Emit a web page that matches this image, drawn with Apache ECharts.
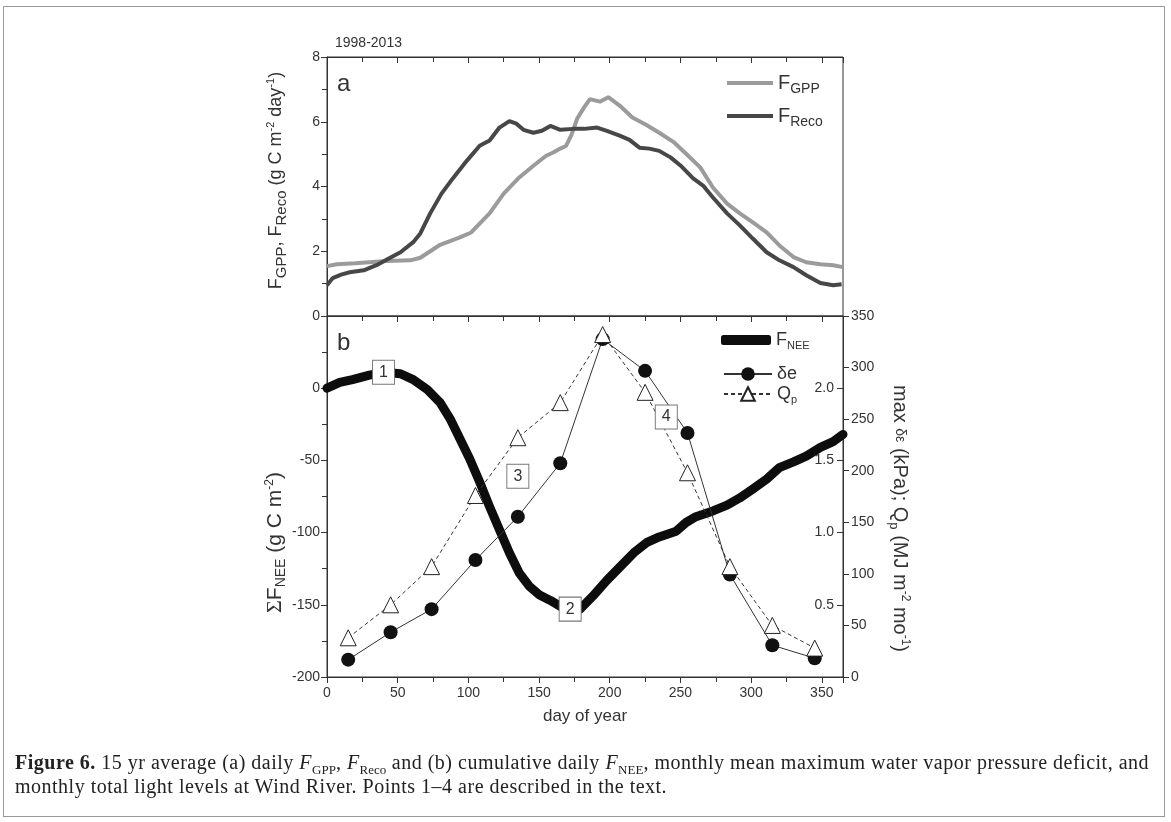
<!DOCTYPE html>
<html>
<head>
<meta charset="utf-8">
<script src="https://cdn.jsdelivr.net/npm/echarts@6/dist/echarts.min.js"></script>
<style>
  html, body { margin: 0; padding: 0; background: #fff; }
  #frame {
    position: absolute; left: 3px; top: 6px; width: 1162px; height: 811px;
    border: 1px solid #9a9a9a; box-sizing: border-box;
  }
  #main { position: absolute; left: 0; top: 0; width: 1171px; height: 822px; }
  #cap {
    position: absolute; left: 15px; top: 750px; white-space: nowrap;
    font-family: "Liberation Serif", "DejaVu Serif", serif; font-size: 20px;
    letter-spacing: 0.5px; line-height: 24px; color: #222;
  }
  #cap sub { font-size: 13px; line-height: 0; letter-spacing: 0; }
</style>
</head>
<body>
<div id="frame"></div>
<div id="main"></div>
<div id="cap"><b>Figure 6.</b> 15 yr average (a) daily <i>F</i><sub>GPP</sub>, <i>F</i><sub>Reco</sub> and (b) cumulative daily <i>F</i><sub>NEE</sub>, monthly mean maximum water vapor pressure deficit, and<br>monthly total light levels at Wind River. Points 1–4 are described in the text.</div>
<script>
// panel a: daily fluxes (g C m-2 day-1)
const gppDays = [0, 7, 20, 42, 59, 66, 80, 94, 102, 115, 125, 136, 146, 155, 160, 165, 169, 173, 177, 182, 186, 193, 199, 207, 216, 226, 235, 245, 254, 264, 273, 283, 292, 301, 311, 320, 330, 339, 349, 358, 365];
const gppVals = [1.54, 1.6, 1.63, 1.7, 1.72, 1.8, 2.2, 2.43, 2.58, 3.17, 3.78, 4.28, 4.64, 4.95, 5.05, 5.17, 5.25, 5.6, 6.1, 6.45, 6.7, 6.62, 6.76, 6.5, 6.13, 5.9, 5.66, 5.38, 5.01, 4.59, 3.97, 3.47, 3.17, 2.9, 2.58, 2.18, 1.82, 1.66, 1.6, 1.57, 1.51];
const recoDays = [0, 4, 10, 16, 26, 35, 45, 52, 61, 66, 73, 81, 89, 99, 108, 115, 122, 129, 134, 139, 146, 152, 158, 165, 174, 182, 191, 198, 207, 214, 221, 228, 235, 243, 250, 259, 266, 273, 283, 292, 301, 311, 320, 330, 339, 349, 358, 364];
const recoVals = [0.95, 1.17, 1.28, 1.35, 1.41, 1.57, 1.81, 1.97, 2.28, 2.55, 3.17, 3.78, 4.25, 4.8, 5.26, 5.42, 5.82, 6.02, 5.94, 5.75, 5.66, 5.72, 5.87, 5.75, 5.78, 5.78, 5.82, 5.72, 5.57, 5.44, 5.2, 5.17, 5.1, 4.9, 4.65, 4.25, 4.03, 3.66, 3.17, 2.8, 2.4, 1.97, 1.72, 1.51, 1.26, 1.02, 0.95, 0.98];

// panel b: cumulative NEE (g C m-2)
const neeDays = [0, 9, 18, 30, 40, 52, 61, 71, 80, 87, 94, 101, 108, 115, 122, 129, 136, 143, 150, 158, 165, 172, 179, 188, 198, 207, 217, 226, 235, 247, 254, 261, 273, 283, 292, 301, 311, 320, 330, 339, 349, 358, 365];
const neeVals = [0, 4, 6, 9, 11, 10, 6, -1, -10, -21, -35, -49, -65, -82, -98, -114, -128, -137, -143, -147, -151, -155, -153, -144, -133, -124, -114, -107, -103, -99, -93, -89, -85, -81, -76, -70, -63, -55, -51, -47, -41, -37, -32];

// monthly values
const monthDays = [15, 45, 74, 105, 135, 165, 195, 225, 255, 285, 315, 345];
const vpdVals = [0.12, 0.31, 0.47, 0.81, 1.11, 1.48, 2.34, 2.12, 1.69, 0.71, 0.22, 0.13];
const qpVals = [38, 70, 107, 176, 232, 266, 332, 276, 198, 107, 50, 28];

// numbered points on the NEE curve
const pointNames = ['1', '2', '3', '4'];
const pointDays = [40, 172, 135, 240];
const pointVals = [11, -153, -61, -20];

const pairs = (xs, ys) => xs.map((x, i) => [x, ys[i]]);

const FONT = 'Liberation Sans';
const INK = '#333';

const chart = echarts.init(document.getElementById('main'));

function xAxisFor(grid, pos, extra) {
  return Object.assign({
    gridIndex: grid, position: pos, type: 'value',
    min: 0, max: 365, interval: 50, splitLine: { show: false },
    axisLine: { show: true, onZero: false, lineStyle: { color: INK } },
    axisLabel: { show: false },
    axisTick: { show: true, inside: true, length: 6, lineStyle: { color: INK } },
    minorTick: { show: true, splitNumber: 2, length: 5, lineStyle: { color: INK } }
  }, extra || {});
}

const subRich = (big, small) => ({
  f: { fontSize: big, fontFamily: FONT, color: INK },
  s: { fontSize: small, fontFamily: FONT, color: INK, padding: [12, 0, 0, 0] }
});

const option = {
  animation: false,
  textStyle: { fontFamily: FONT },
  title: { text: '1998-2013', left: 330, top: 31,
    textStyle: { fontSize: 14, fontWeight: 'normal', color: INK, fontFamily: FONT } },
  grid: [
    { left: 327, top: 57, width: 516, height: 259, show: true, borderColor: INK, borderWidth: 1 },
    { left: 327, top: 316, width: 516, height: 361, show: true, borderColor: INK, borderWidth: 1 }
  ],
  legend: [
    {
      data: [{ name: 'GPP', icon: 'rect' }, { name: 'Reco', icon: 'rect' }],
      orient: 'vertical', left: 722, top: 68, itemGap: 10,
      itemWidth: 46, itemHeight: 4,
      formatter: n => '{f|F}{s|' + n + '}',
      textStyle: { color: INK, rich: subRich(20, 14) }
    },
    {
      data: [{ name: 'NEE', icon: 'roundRect' }],
      left: 716, top: 326, itemWidth: 50, itemHeight: 10,
      formatter: () => '{f|F}{s|NEE}',
      textStyle: { color: INK, rich: subRich(18, 11) }
    },
    {
      data: ['δe', 'Qp'], orient: 'vertical', left: 718, top: 360, itemGap: 2,
      itemWidth: 48, itemHeight: 17,
      formatter: n => n === 'Qp' ? '{f|Q}{s|p}' : '{f|δe}',
      textStyle: { color: INK, rich: subRich(18, 11) }
    }
  ],
  xAxis: [
    xAxisFor(0, 'bottom', { axisTick: { show: false }, minorTick: { show: false } }),
    xAxisFor(0, 'top'),
    xAxisFor(1, 'top'),
    xAxisFor(1, 'bottom', {
      name: 'day of year', nameLocation: 'middle', nameGap: 31,
      nameTextStyle: { fontSize: 17, color: INK, fontFamily: FONT },
      axisLabel: { show: true, fontSize: 14, color: INK, margin: 9 },
      axisTick: { show: true, inside: false, length: 6, lineStyle: { color: INK } }
    })
  ],
  yAxis: [
    {
      gridIndex: 0, type: 'value', min: 0, max: 8, interval: 2, position: 'left',
      splitLine: { show: false },
      axisLine: { show: true, onZero: false, lineStyle: { color: INK } },
      axisTick: { length: 6, lineStyle: { color: INK } },
      minorTick: { show: true, splitNumber: 2, length: 5, lineStyle: { color: INK } },
      axisLabel: { fontSize: 14, color: INK, margin: 7 },
      name: '{b|F}{s|GPP}{b|, F}{s|Reco}{b| (g C m}{p|-2}{b| day}{p|-1}{b|)}',
      nameLocation: 'middle', nameGap: 38,
      nameTextStyle: { color: INK, padding: [0, 0, 0, 12], rich: {
        b: { fontSize: 18, fontFamily: FONT, color: INK },
        s: { fontSize: 15, fontFamily: FONT, color: INK, padding: [11, 0, 0, 0] },
        p: { fontSize: 11, fontFamily: FONT, color: INK, padding: [0, 0, 10, 0] } } }
    },
    {
      gridIndex: 1, type: 'value', min: -200, max: 50, interval: 50, position: 'left',
      splitLine: { show: false },
      axisLine: { show: true, onZero: false, lineStyle: { color: INK } },
      axisTick: { length: 6, lineStyle: { color: INK } },
      minorTick: { show: true, splitNumber: 2, length: 5, lineStyle: { color: INK } },
      axisLabel: { fontSize: 14, color: INK, margin: 7, formatter: v => v === 50 ? '' : String(v) },
      name: '{g|Σ}{b|F}{s|NEE}{b| (g C m}{p|-2}{b|)}',
      nameLocation: 'middle', nameGap: 38,
      nameTextStyle: { color: INK, padding: [0, 92, 0, 0], rich: {
        g: { fontSize: 22, fontFamily: 'Liberation Serif', color: INK },
        b: { fontSize: 21, fontFamily: FONT, color: INK },
        s: { fontSize: 14, fontFamily: FONT, color: INK, padding: [12, 0, 0, 0] },
        p: { fontSize: 12, fontFamily: FONT, color: INK, padding: [0, 0, 11, 0] } } }
    },
    {
      gridIndex: 1, type: 'value', min: 0, max: 350, interval: 50, position: 'right',
      splitLine: { show: false },
      axisLine: { show: true, onZero: false, lineStyle: { color: INK } },
      axisTick: { length: 6, lineStyle: { color: INK } },
      axisLabel: { fontSize: 14, color: INK, margin: 8 },
      name: '{b|max }{d|δε}{b| (kPa); Q}{s|p}{b| (MJ m}{p|-2}{b| mo}{p|-1}{b|)}',
      nameLocation: 'middle', nameGap: 44, nameRotate: -90,
      nameTextStyle: { color: INK, padding: [0, 0, 0, 44], rich: {
        b: { fontSize: 20, fontFamily: FONT, color: INK },
        d: { fontSize: 14, fontFamily: FONT, color: INK },
        s: { fontSize: 13, fontFamily: FONT, color: INK, padding: [12, 0, 0, 0] },
        p: { fontSize: 12, fontFamily: FONT, color: INK, padding: [0, 0, 11, 0] } } }
    },
    {
      gridIndex: 1, type: 'value', min: 0, max: 2.5, interval: 0.5, position: 'right',
      splitLine: { show: false },
      axisLine: { show: false, onZero: false },
      axisTick: { inside: true, length: 6, lineStyle: { color: INK } },
      axisLabel: { inside: true, fontSize: 14, color: INK, margin: 9,
        formatter: v => (v === 0 || v === 2.5) ? '' : v.toFixed(1) }
    }
  ],
  graphic: [
    { type: 'text', left: 337, top: 72, style: { text: 'a', fontSize: 24, fontFamily: FONT, fill: INK } },
    { type: 'text', left: 337, top: 331, style: { text: 'b', fontSize: 24, fontFamily: FONT, fill: INK } }
  ],
  series: [
    { name: 'GPP', type: 'line', xAxisIndex: 0, yAxisIndex: 0, data: pairs(gppDays, gppVals),
      symbol: 'none', lineStyle: { color: '#9b9b9b', width: 4 }, itemStyle: { color: '#9b9b9b' } },
    { name: 'Reco', type: 'line', xAxisIndex: 0, yAxisIndex: 0, data: pairs(recoDays, recoVals),
      symbol: 'none', lineStyle: { color: '#474747', width: 4 }, itemStyle: { color: '#474747' } },
    { name: 'NEE', type: 'line', xAxisIndex: 3, yAxisIndex: 1, data: pairs(neeDays, neeVals),
      symbol: 'none', lineStyle: { color: '#0d0d0d', width: 9, cap: 'round', join: 'round' },
      itemStyle: { color: '#0d0d0d' } },
    { name: 'δe', type: 'line', xAxisIndex: 3, yAxisIndex: 3, data: pairs(monthDays, vpdVals),
      symbol: 'circle', symbolSize: 14,
      itemStyle: { color: '#111' }, lineStyle: { color: '#333', width: 1 } },
    { name: 'Qp', type: 'line', xAxisIndex: 3, yAxisIndex: 2, data: pairs(monthDays, qpVals),
      symbol: 'triangle', symbolSize: 16,
      itemStyle: { color: '#fff', borderColor: '#222', borderWidth: 1 },
      lineStyle: { color: '#333', width: 1, type: [4, 3] } },
    { name: 'points', type: 'scatter', xAxisIndex: 3, yAxisIndex: 1, z: 10,
      data: pointNames.map((n, i) => ({ name: n, value: [pointDays[i], pointVals[i]] })),
      symbol: 'rect', symbolSize: [22, 24],
      itemStyle: { color: '#fff', borderColor: '#777', borderWidth: 1, opacity: 1 },
      label: { show: true, position: 'inside', formatter: p => p.name,
        fontSize: 16, color: INK, fontFamily: FONT } }
  ]
};

chart.setOption(option);
</script>
</body>
</html>
